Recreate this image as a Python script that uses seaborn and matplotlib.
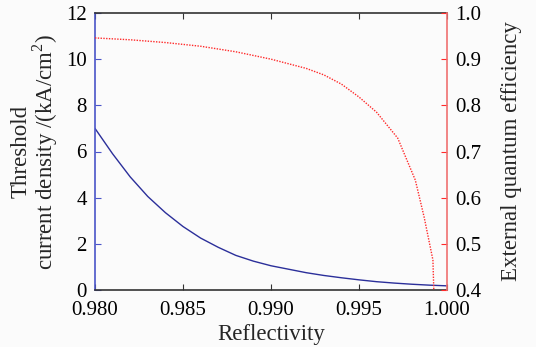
import numpy as np
import pandas as pd
import matplotlib
matplotlib.use("Agg")
import matplotlib.pyplot as plt
import seaborn as sns

# Threshold current density (left axis)
refl_j = [0.980, 0.981, 0.982, 0.983, 0.984, 0.985, 0.986, 0.987, 0.988, 0.989, 0.990,
          0.991, 0.992, 0.993, 0.994, 0.995, 0.996, 0.997, 0.998, 0.999, 1.000]
j_th = [7.0, 5.9, 4.9, 4.05, 3.35, 2.75, 2.25, 1.85, 1.5, 1.25, 1.05,
        0.9, 0.75, 0.63, 0.53, 0.44, 0.36, 0.30, 0.25, 0.21, 0.18]

# External quantum efficiency (right axis)
refl_q = [0.980, 0.982, 0.984, 0.986, 0.988, 0.990, 0.992, 0.993, 0.994, 0.995,
          0.996, 0.9972, 0.9982, 0.9987, 0.9992, 0.99925]
eqe = [0.946, 0.942, 0.936, 0.928, 0.916, 0.900, 0.880, 0.866, 0.846, 0.818,
       0.785, 0.729, 0.638, 0.558, 0.465, 0.40]

xticks = [0.980, 0.985, 0.990, 0.995, 1.000]
yticks_l = [0, 2, 4, 6, 8, 10, 12]
yticks_r = [0.4, 0.5, 0.6, 0.7, 0.8, 0.9, 1.0]

sns.set_style("ticks")
plt.rcParams['font.family'] = ['Liberation Serif', 'DejaVu Serif']
plt.rcParams['mathtext.fontset'] = 'custom'
plt.rcParams['mathtext.rm'] = 'Liberation Serif'

blue = "#2b2f9a"
blue_spine = "#4a55c8"
red = "#ff2a2a"
red_spine = "#f07070"
fs = 15
lfs = 16.5

fig = plt.figure(figsize=(5.36, 3.47), dpi=100, facecolor="#fbfbfb")
ax = fig.add_axes([95/536, 57/347, 352/536, 277/347])
ax.set_facecolor("#fbfbfb")

df1 = pd.DataFrame({"R": refl_j, "J": j_th})
sns.lineplot(data=df1, x="R", y="J", ax=ax, color=blue, linewidth=1.0)
ax.set_xlim(0.980, 1.000)
ax.set_ylim(0, 12)
ax.set_xticks(xticks)
ax.set_xticklabels([f"{v:.3f}" for v in xticks])
ax.set_yticks(yticks_l)
ax.tick_params(axis="both", direction="in", labelsize=fs, length=4)
ax.tick_params(axis="x", top=True, colors="#333333", labelcolor="black", pad=8)
ax.tick_params(axis="y", right=True, colors=blue_spine, labelcolor="black", pad=6)
ax.set_xlabel("Reflectivity", fontsize=lfs, labelpad=3)
ax.set_ylabel("Threshold\ncurrent density /(kA/cm$^2$)", fontsize=lfs, labelpad=4, linespacing=0.95)
for s in ["top", "bottom"]:
    ax.spines[s].set_color("#333333")
    ax.spines[s].set_linewidth(1.2)
ax.spines["left"].set_color(blue_spine)
ax.spines["left"].set_linewidth(1.2)

ax2 = ax.twinx()
df2 = pd.DataFrame({"R": refl_q, "Q": eqe})
sns.lineplot(data=df2, x="R", y="Q", ax=ax2, color=red, linewidth=1.0, linestyle=(0, (1, 1)))
ax2.set_ylim(0.4, 1.0)
ax2.set_yticks(yticks_r)
ax2.set_yticklabels([f"{v:.1f}" for v in yticks_r])
ax2.tick_params(axis="y", direction="in", labelsize=fs, length=4, colors=red, labelcolor="black", pad=6)
ax2.set_ylabel("External quantum efficiency", fontsize=lfs, labelpad=14)
ax2.spines["right"].set_color(red_spine)
ax2.spines["right"].set_linewidth(1.2)
ax2.spines["left"].set_visible(False)
ax2.spines["top"].set_visible(False)
ax2.spines["bottom"].set_visible(False)
ax.spines["right"].set_visible(False)
ax2.set_xlim(0.980, 1.000)

fig.savefig("out.png", dpi=100, facecolor=fig.get_facecolor())
